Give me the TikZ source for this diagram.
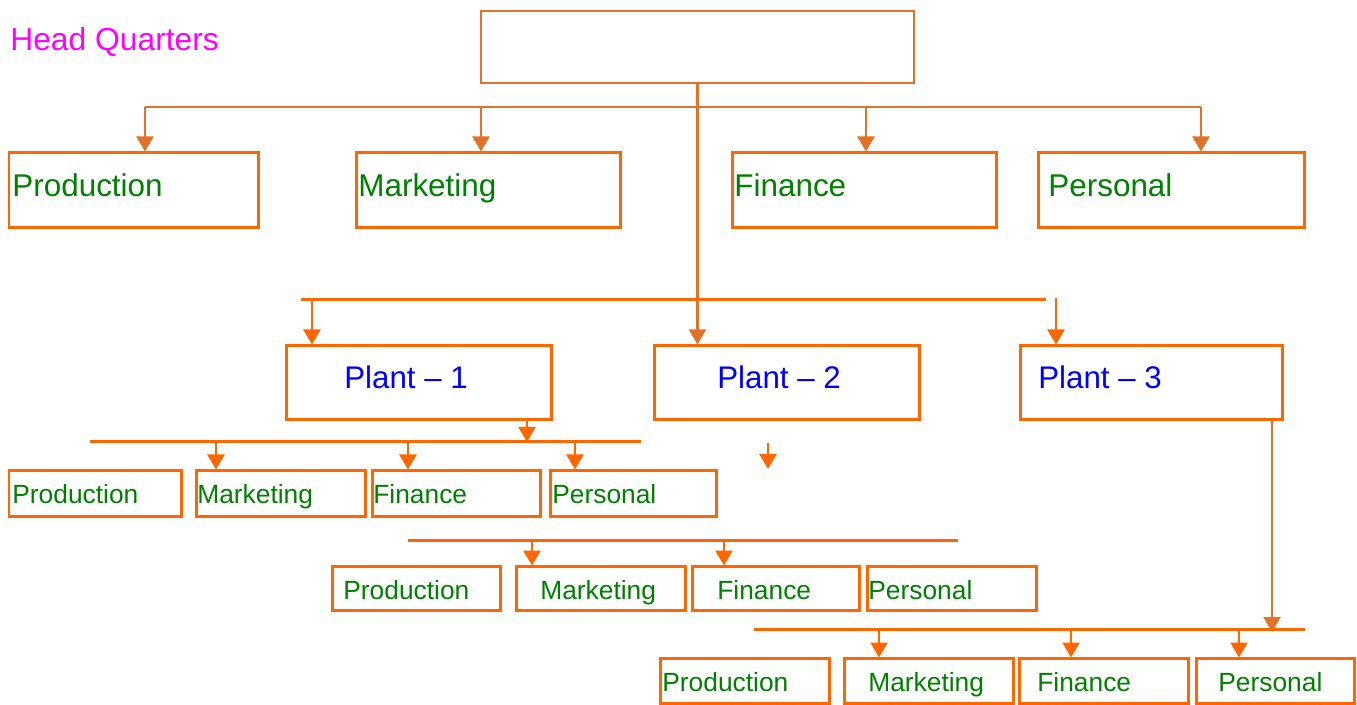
\documentclass[tikz,border=0pt]{standalone}
\usepackage{fontspec}
\setmainfont{Liberation Sans}
\usepackage{tikz}
\usetikzlibrary{arrows.meta, fit}

\definecolor{orgbox}{HTML}{FF6600}
\definecolor{orgline}{HTML}{E2722A}
\definecolor{hqpink}{HTML}{FF00FF}
\definecolor{deptgreen}{HTML}{008000}
\definecolor{plantblue}{HTML}{0000FF}

\begin{document}
\begin{tikzpicture}[x=0.02cm, y=-0.02cm,
		box/.style={draw=orgbox, line width=0.06cm, inner sep=0pt},
		hqbox/.style={draw=orgline, line width=0.035cm, inner sep=0pt},
		bus/.style={draw=orgbox, line width=0.06cm},
		thinbus/.style={draw=orgline, line width=0.045cm},
		drop/.style={draw=orgbox, line width=0.05cm, -{Triangle[width=0.34cm,length=0.3cm]}},
		thindrop/.style={draw=orgline, line width=0.045cm, -{Triangle[width=0.34cm,length=0.3cm]}},
		hq/.style={inner sep=0pt, anchor=base west, text=hqpink, font=\fontsize{18.1}{21}\selectfont},
		dept/.style={inner sep=0pt, anchor=base west, text=deptgreen, font=\fontsize{17.9}{21}\selectfont},
		plant/.style={inner sep=0pt, anchor=base west, text=plantblue, font=\fontsize{17.8}{21}\selectfont},
		sub/.style={inner sep=0pt, anchor=base west, text=deptgreen, font=\fontsize{15}{18}\selectfont}]
	\useasboundingbox (0,0) rectangle (1357,705);
	
	% head quarters
	\node[hq] (hq-t) at (10,51) {Head Quarters};
	\node[hqbox, fit={(481,11) (914,83)}] (hq) {};
	
	% top departments
	\node[box, fit={(9,153) (258,228)}] (prod) {};
	\node[box, fit={(356,153) (620,228)}] (mark) {};
	\node[box, fit={(732,153) (996,228)}] (fin) {};
	\node[box, fit={(1038,153) (1304,228)}] (pers) {};
	\node[dept] (prod-t) at (12,197) {Production};
	\node[dept] (mark-t) at (358,197) {Marketing};
	\node[dept] (fin-t) at (734,197) {Finance};
	\node[dept] (pers-t) at (1048,197) {Personal};
	
	% plants
	\node[box, fit={(286,346) (551,420)}] (p1) {};
	\node[box, fit={(654,346) (919,420)}] (p2) {};
	\node[box, fit={(1020,346) (1282,420)}] (p3) {};
	\node[plant] (p1-t) at (344,389) {Plant -- 1};
	\node[plant] (p2-t) at (717,389) {Plant -- 2};
	\node[plant] (p3-t) at (1038,389) {Plant -- 3};
	
	% departments of plant 1
	\node[box, fit={(9,471) (181,517)}] (a-prod) {};
	\node[box, fit={(196,471) (365,517)}] (a-mark) {};
	\node[box, fit={(372,471) (540,517)}] (a-fin) {};
	\node[box, fit={(550,471) (716,517)}] (a-pers) {};
	\node[sub] (a-prod-t) at (12,504) {Production};
	\node[sub] (a-mark-t) at (197,504) {Marketing};
	\node[sub] (a-fin-t) at (373,504) {Finance};
	\node[sub] (a-pers-t) at (552,504) {Personal};
	
	% departments of plant 2
	\node[box, fit={(332,567) (500,611)}] (b-prod) {};
	\node[box, fit={(516,567) (685,611)}] (b-mark) {};
	\node[box, fit={(692,567) (859,611)}] (b-fin) {};
	\node[box, fit={(867,567) (1036,611)}] (b-pers) {};
	\node[sub] (b-prod-t) at (343,600) {Production};
	\node[sub] (b-mark-t) at (540,600) {Marketing};
	\node[sub] (b-fin-t) at (717,600) {Finance};
	\node[sub] (b-pers-t) at (868,600) {Personal};
	
	% departments of plant 3
	\node[box, fit={(660,659) (829,704)}] (c-prod) {};
	\node[box, fit={(844,659) (1013,704)}] (c-mark) {};
	\node[box, fit={(1019,659) (1188,704)}] (c-fin) {};
	\node[box, fit={(1196,659) (1354,704)}] (c-pers) {};
	\node[sub] (c-prod-t) at (662,692) {Production};
	\node[sub] (c-mark-t) at (868,692) {Marketing};
	\node[sub] (c-fin-t) at (1037,692) {Finance};
	\node[sub] (c-pers-t) at (1218,692) {Personal};
	
	% bus points
	\coordinate (t1) at (145,107);
	\coordinate (t2) at (481,107);
	\coordinate (t3) at (866,107);
	\coordinate (t4) at (1201,107);
	\coordinate (m1) at (312,300);
	\coordinate (m0) at (301,300);
	\coordinate (m9) at (1046,300);
	\coordinate (m3) at (1056,298);
	\coordinate (a0) at (90,442);
	\coordinate (a9) at (641,442);
	\coordinate (a1) at (216,442);
	\coordinate (a2) at (408,442);
	\coordinate (a3) at (575,442);
	\coordinate (ain) at (527,442);
	\coordinate (bs) at (768,443);
	\coordinate (be) at (768,469);
	\coordinate (b0) at (408,541);
	\coordinate (b9) at (958,541);
	\coordinate (b1) at (532,541);
	\coordinate (b2) at (724,541);
	\coordinate (c0) at (754,630);
	\coordinate (c9) at (1305,630);
	\coordinate (c1) at (879,630);
	\coordinate (c2) at (1071,630);
	\coordinate (c3) at (1239,630);
	\coordinate (cin) at (1272,632);
	
	% connectors from head quarters
	\path[thinbus] (t1) -- (t4);
	\path[thindrop] (t1) -- (prod.north -| t1);
	\path[thindrop] (t2) -- (mark.north -| t2);
	\path[thindrop] (t3) -- (fin.north -| t3);
	\path[thindrop] (t4) -- (pers.north -| t4);
	\path[thindrop] (hq.south) -- (hq.south |- p2.north);
	
	% connectors to plants
	\path[bus] (m0) -- (m9);
	\path[drop] (m1) -- (p1.north -| m1);
	\path[drop] (m3) -- (p3.north -| m3);
	
	% plant 1
	\path[drop] (p1.south -| ain) -- (ain);
	\path[bus] (a0) -- (a9);
	\path[drop] (a1) -- (a-mark.north -| a1);
	\path[drop] (a2) -- (a-fin.north -| a2);
	\path[drop] (a3) -- (a-pers.north -| a3);
	
	% plant 2
	\path[drop] (bs) -- (be);
	\path[bus] (b0) -- (b9);
	\path[drop] (b1) -- (b-mark.north -| b1);
	\path[drop] (b2) -- (b-fin.north -| b2);
	
	% plant 3
	\path[thindrop] (p3.south -| cin) -- (cin);
	\path[bus] (c0) -- (c9);
	\path[drop] (c1) -- (c-mark.north -| c1);
	\path[drop] (c2) -- (c-fin.north -| c2);
	\path[drop] (c3) -- (c-pers.north -| c3);
\end{tikzpicture}
\end{document}
